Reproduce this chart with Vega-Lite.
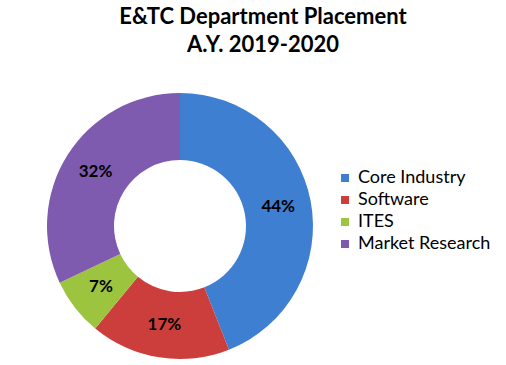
{
  "$schema": "https://vega.github.io/schema/vega-lite/v6.json",
  "width": 266,
  "height": 266,
  "autosize": {"type": "none"},
  "padding": {"left": 47, "top": 93, "right": 193, "bottom": 6},
  "background": "white",
  "title": {
    "text": ["E&TC Department Placement", "A.Y. 2019-2020"],
    "font": "Lato",
    "fontSize": 22,
    "fontWeight": "bold",
    "color": "black",
    "lineHeight": 28,
    "anchor": "middle",
    "frame": "group",
    "dx": 83,
    "offset": 36
  },
  "data": {
    "values": [
      {"category": "Core Industry", "share": 44, "label": "44%", "ord": 1},
      {"category": "Software", "share": 17, "label": "17%", "ord": 2},
      {"category": "ITES", "share": 7, "label": "7%", "ord": 3},
      {"category": "Market Research", "share": 32, "label": "32%", "ord": 4}
    ]
  },
  "encoding": {
    "theta": {"field": "share", "type": "quantitative", "stack": true},
    "order": {"field": "ord", "type": "quantitative"},
    "color": {
      "field": "category",
      "type": "nominal",
      "scale": {
        "domain": ["Core Industry", "Software", "ITES", "Market Research"],
        "range": ["#3F7FD2", "#CC3E3B", "#9CC43E", "#7F5BB0"]
      },
      "legend": {
        "title": null,
        "orient": "none",
        "legendX": 289,
        "legendY": 76,
        "labelFont": "Lato",
        "labelFontSize": 18,
        "labelColor": "black",
        "symbolType": "square",
        "symbolSize": 64,
        "symbolStrokeWidth": 0,
        "rowPadding": 4,
        "labelOffset": 4
      }
    }
  },
  "layer": [
    {
      "mark": {"type": "arc", "outerRadius": 133, "innerRadius": 66}
    },
    {
      "mark": {"type": "text", "radius": 100, "font": "Lato", "fontSize": 17, "fontWeight": "bold", "color": "black"},
      "encoding": {
        "text": {"field": "label", "type": "nominal"},
        "color": {"value": "black"}
      }
    }
  ]
}
